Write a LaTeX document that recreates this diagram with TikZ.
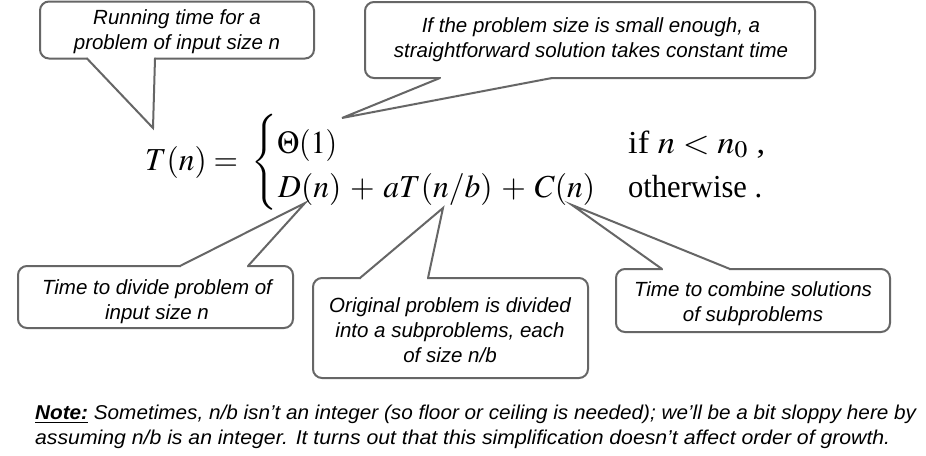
\documentclass[tikz,border=0pt]{standalone}
\usepackage{mathptmx}
\usepackage{graphicx}
\usepackage{fontspec}
\setmainfont{Liberation Serif}
\newfontfamily\arialfont{Liberation Sans}
\definecolor{boxgray}{HTML}{666666}
\begin{document}
\begin{tikzpicture}[x=1pt,y=-1pt,
  callbox/.style={draw=boxgray, line width=2pt, rounded corners=9pt, fill=white, inner sep=0pt},
  calltext/.style={font=\arialfont\itshape\fontsize{20.5}{25}\selectfont, align=center, inner sep=0pt},
  tailline/.style={draw=boxgray, line width=2pt, line join=miter, line cap=round},
  eqtext/.style={font=\fontsize{32}{40}\selectfont, inner sep=0pt, anchor=base west},
  notetext/.style={font=\arialfont\itshape\fontsize{20}{24}\selectfont, inner sep=0pt, anchor=base west}]
\fill[white] (0,0) rectangle (926,455);
\useasboundingbox (0,0) rectangle (926,455);

% callout 1
\node[callbox, minimum width=274pt, minimum height=57pt] (c1) at (177,30) {};
\coordinate (tip1) at (153,128);
\fill[white] (88,55) -- (88,58.5) -- (tip1) -- (154,58.5) -- (154,55) -- cycle;
\draw[tailline] (87,58.5) -- (tip1) -- (155,58.5);
\node[calltext] (t1) at (177,32) {Running time for a\\problem of input size n};

% callout 2
\node[callbox, minimum width=450pt, minimum height=76pt] (c2) at (590,40) {};
\coordinate (tip2) at (342,118);
\fill[white] (441,75) -- (441,78) -- (tip2) -- (551,78) -- (551,75) -- cycle;
\draw[tailline] (440,78) -- (tip2) -- (552,78);
\node[calltext] (t2) at (591,40) {If the problem size is small enough, a\\straightforward solution takes constant time};

% callout 3
\node[callbox, minimum width=275pt, minimum height=62pt] (c3) at (155.5,297) {};
\coordinate (tip3) at (305,203);
\fill[white] (181,269) -- (181,266) -- (tip3) -- (247,266) -- (247,269) -- cycle;
\draw[tailline] (180,266) -- (tip3) -- (248,266);
\node[calltext] (t3) at (157,302) {Time to divide problem of\\input size n};

% callout 4
\node[callbox, minimum width=275pt, minimum height=100pt] (c4) at (450.5,328) {};
\coordinate (tip4) at (443,208);
\fill[white] (361,281) -- (361,278) -- (tip4) -- (427,278) -- (427,281) -- cycle;
\draw[tailline] (360,278) -- (tip4) -- (428,278);
\node[calltext] (t4) at (450,330.5) {Original problem is divided\\into a subproblems, each\\of size n/b};

% callout 5
\node[callbox, minimum width=274pt, minimum height=63pt] (c5) at (753,300.5) {};
\coordinate (tip5) at (572,205);
\fill[white] (663,272) -- (663,269) -- (tip5) -- (729,269) -- (729,272) -- cycle;
\draw[tailline] (662,269) -- (tip5) -- (730,269);
\node[calltext] (t5) at (753,304) {Time to combine solutions\\of subproblems};

% equation
\node[eqtext] (lhs) at (145,170) {\resizebox{93pt}{\height}{$T(n) =$}};
\node[inner sep=0pt, anchor=west, font=\fontsize{32}{40}\selectfont] (brace) at (251,162) {$\left\{\vcenter{\hrule height 96pt width 0pt}\right.$};
\node[eqtext] (r1a) at (277,153) {\resizebox{60pt}{\height}{$\Theta(1)$}};
\node[eqtext] (r1b) at (628,153) {\resizebox{137pt}{\height}{if $n < n_0$\ ,}};
\node[eqtext] (r2a) at (278,197) {\resizebox{317pt}{\height}{\medmuskip=5mu$D(n) + aT(n/b) + C(n)$}};
\node[eqtext] (r2b) at (628,197) {\resizebox{134pt}{\height}{otherwise\ .}};

% note
\node[notetext] (note1) at (35,419) {\resizebox{881pt}{\height}{\underline{\bfseries Note:} Sometimes, n/b isn’t an integer (so floor or ceiling is needed); we’ll be a bit sloppy here by}};
\node[notetext] (note2) at (35,444) {\resizebox{855pt}{\height}{assuming n/b is an integer. It turns out that this simplification doesn’t affect order of growth.}};
\end{tikzpicture}
\end{document}
